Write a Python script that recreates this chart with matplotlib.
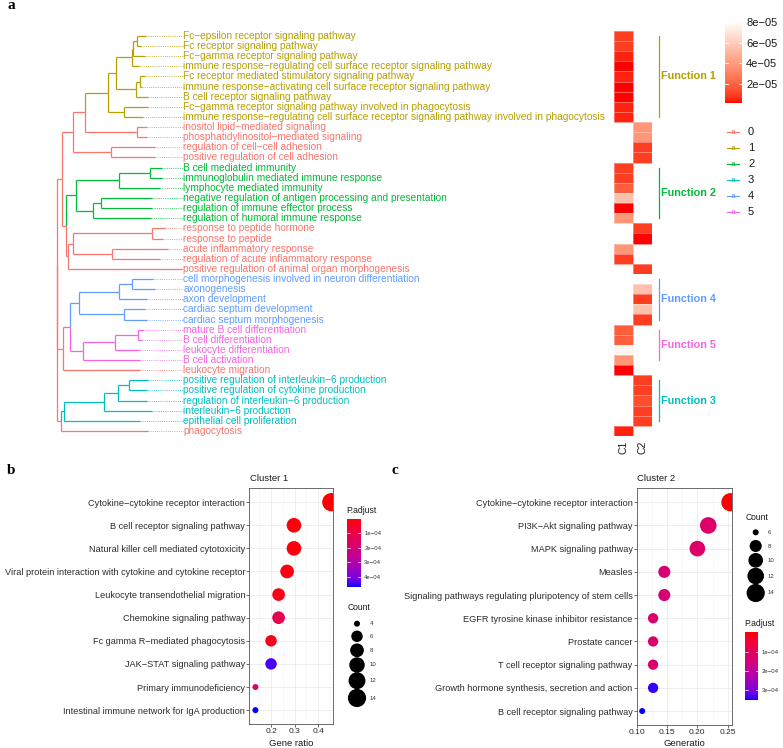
import numpy as np
import matplotlib
matplotlib.use('Agg')
import matplotlib.pyplot as plt
from matplotlib.colors import ListedColormap, Normalize, to_rgb
from matplotlib.cm import ScalarMappable

plt.rcParams['font.family'] = ['Liberation Sans', 'DejaVu Sans']

# ------------------------------------------------------------------ data
group_colors = ['#F8766D', '#B79F00', '#00BA38', '#00BFC4', '#619CFF', '#F564E3']
group_labels = ['0', '1', '2', '3', '4', '5']

terms = [
    'Fc−epsilon receptor signaling pathway',
    'Fc receptor signaling pathway',
    'Fc−gamma receptor signaling pathway',
    'immune response−regulating cell surface receptor signaling pathway',
    'Fc receptor mediated stimulatory signaling pathway',
    'immune response−activating cell surface receptor signaling pathway',
    'B cell receptor signaling pathway',
    'Fc−gamma receptor signaling pathway involved in phagocytosis',
    'immune response−regulating cell surface receptor signaling pathway involved in phagocytosis',
    'inositol lipid−mediated signaling',
    'phosphatidylinositol−mediated signaling',
    'regulation of cell−cell adhesion',
    'positive regulation of cell adhesion',
    'B cell mediated immunity',
    'immunoglobulin mediated immune response',
    'lymphocyte mediated immunity',
    'negative regulation of antigen processing and presentation',
    'regulation of immune effector process',
    'regulation of humoral immune response',
    'response to peptide hormone',
    'response to peptide',
    'acute inflammatory response',
    'regulation of acute inflammatory response',
    'positive regulation of animal organ morphogenesis',
    'cell morphogenesis involved in neuron differentiation',
    'axonogenesis',
    'axon development',
    'cardiac septum development',
    'cardiac septum morphogenesis',
    'mature B cell differentiation',
    'B cell differentiation',
    'leukocyte differentiation',
    'B cell activation',
    'leukocyte migration',
    'positive regulation of interleukin−6 production',
    'positive regulation of cytokine production',
    'regulation of interleukin−6 production',
    'interleukin−6 production',
    'epithelial cell proliferation',
    'phagocytosis',
]
term_group = [1]*9 + [0]*4 + [2]*6 + [0]*5 + [4]*5 + [5]*4 + [0] + [3]*5 + [0]

# tree: tip depths (root = 0, label column = 1) and merges (a, b, node depth);
# merge k creates node id 40 + k
tip_depth = [0.706, 0.669, 0.701, 0.653, 0.701, 0.675, 0.725, 0.725, 0.685, 0.714,
             0.714, 0.780, 0.780, 0.836, 0.836, 0.820, 0.756, 0.756, 0.748, 0.860,
             0.844, 0.883, 0.820, 0.994, 0.764, 0.780, 0.714, 0.701, 0.714, 0.687,
             0.675, 0.661, 0.661, 0.661, 0.727, 0.714, 0.714, 0.754, 0.661, 0.727]
merges = [
    (0, 1, 0.635), (40, 2, 0.608), (41, 3, 0.595), (4, 5, 0.661), (43, 6, 0.629),
    (42, 44, 0.471), (7, 8, 0.534), (45, 46, 0.407), (9, 10, 0.635), (47, 48, 0.225),
    (11, 12, 0.431), (49, 50, 0.127), (13, 14, 0.740), (52, 15, 0.494), (16, 17, 0.349),
    (54, 18, 0.286), (53, 55, 0.151), (19, 20, 0.756), (21, 22, 0.437), (57, 58, 0.132),
    (59, 23, 0.092), (56, 60, 0.074), (51, 61, 0.044), (24, 25, 0.595), (63, 26, 0.494),
    (27, 28, 0.537), (64, 65, 0.177), (29, 30, 0.643), (67, 31, 0.463), (68, 32, 0.211),
    (66, 69, 0.106), (70, 33, 0.048), (34, 35, 0.576), (72, 36, 0.489), (73, 37, 0.378),
    (74, 38, 0.060), (75, 39, 0.032), (62, 71, 0.006), (77, 76, 0.0),
]

nan = np.nan
heat_cols = ['C1', 'C2']
c1_val = [9e-06, 9e-06, 4e-06, 1e-06, 4e-06, 1e-06, 1e-06, 4e-06, 4e-06, nan,
          nan, nan, nan, 9e-06, 9e-06, 1.8e-05, 5.5e-05, 1e-06, 3.8e-05, nan,
          nan, 3.8e-05, 9e-06, nan, nan, nan, nan, nan, nan, 1.8e-05,
          1.8e-05, 7.6e-05, 3.8e-05, 1e-06, nan, nan, nan, nan, nan, 4e-06]
c2_val = [nan, nan, nan, nan, nan, nan, nan, nan, nan, 3.8e-05,
          3.8e-05, 9e-06, 9e-06, nan, nan, nan, nan, nan, nan, 9e-06,
          1e-06, nan, nan, 9e-06, 8.1e-05, 5.5e-05, 9e-06, 5.5e-05, 9e-06, nan,
          nan, nan, nan, nan, 9e-06, 9e-06, 1.3e-05, 9e-06, 9e-06, nan]
heat_ticks = [2e-05, 4e-05, 6e-05, 8e-05]
heat_ticklabels = ['2e−05', '4e−05', '6e−05', '8e−05']

functions = [('Function 1', 1, 0, 8), ('Function 2', 2, 13, 18), ('Function 4', 4, 24, 28),
             ('Function 5', 5, 29, 32), ('Function 3', 3, 34, 38)]

k1_terms = ['Cytokine−cytokine receptor interaction', 'B cell receptor signaling pathway',
            'Natural killer cell mediated cytotoxicity',
            'Viral protein interaction with cytokine and cytokine receptor',
            'Leukocyte transendothelial migration', 'Chemokine signaling pathway',
            'Fc gamma R−mediated phagocytosis', 'JAK−STAT signaling pathway',
            'Primary immunodeficiency', 'Intestinal immune network for IgA production']
k1_ratio = [0.455, 0.297, 0.297, 0.268, 0.232, 0.232, 0.2, 0.2, 0.134, 0.134]
k1_count = [14, 9, 9, 8, 7, 7, 6, 6, 4, 4]
k1_padj = [1e-07, 8e-06, 1e-05, 1.5e-05, 2e-05, 1.2e-04, 2.5e-05, 4.45e-04, 1.7e-04, 4.67e-04]
k1_xticks = [0.2, 0.3, 0.4]
k1_xticklabels = ['0.2', '0.3', '0.4']
k1_ticks = [1e-04, 2e-04, 3e-04, 4e-04]
k1_ticklabels = ['1e−04', '2e−04', '3e−04', '4e−04']
k1_size_breaks = [4, 6, 8, 10, 12, 14]

k2_terms = ['Cytokine−cytokine receptor interaction', 'PI3K−Akt signaling pathway',
            'MAPK signaling pathway', 'Measles',
            'Signaling pathways regulating pluripotency of stem cells',
            'EGFR tyrosine kinase inhibitor resistance', 'Prostate cancer',
            'T cell receptor signaling pathway',
            'Growth hormone synthesis, secretion and action', 'B cell receptor signaling pathway']
k2_ratio = [0.2545, 0.218, 0.2, 0.1455, 0.1455, 0.127, 0.127, 0.127, 0.127, 0.109]
k2_count = [14, 12, 11, 8, 8, 7, 7, 7, 7, 6]
k2_padj = [1e-07, 1.25e-04, 1.25e-04, 1.4e-04, 1.4e-04, 1.3e-04, 1.3e-04, 1.3e-04,
           3.4e-04, 3.49e-04]
k2_xticks = [0.10, 0.15, 0.20, 0.25]
k2_xticklabels = ['0.10', '0.15', '0.20', '0.25']
k2_ticks = [1e-04, 2e-04, 3e-04]
k2_ticklabels = ['1e−04', '2e−04', '3e−04']
k2_size_breaks = [6, 8, 10, 12, 14]

# ------------------------------------------------------------------ helpers
W, H = 783, 748
fig = plt.figure(figsize=(W / 100, H / 100), dpi=100)


def fax(x0, y0, x1, y1, **kw):
    return fig.add_axes([x0 / W, 1 - y1 / H, (x1 - x0) / W, (y1 - y0) / H], **kw)


Mx = np.array([[0.4124, 0.3576, 0.1805], [0.2126, 0.7152, 0.0722], [0.0193, 0.1192, 0.9505]])
WH = Mx.sum(axis=1)


def rgb2lab(rgb):
    c = np.asarray(rgb, float)
    lin = np.where(c <= 0.04045, c / 12.92, ((c + 0.055) / 1.055) ** 2.4)
    xyz = Mx @ lin / WH
    f = np.where(xyz > (6 / 29) ** 3, np.cbrt(xyz), xyz / (3 * (6 / 29) ** 2) + 4 / 29)
    return np.array([116 * f[1] - 16, 500 * (f[0] - f[1]), 200 * (f[1] - f[2])])


def lab2rgb(lab):
    L, a, b = lab
    fy = (L + 16) / 116
    f = np.array([fy + a / 500, fy, fy - b / 200])
    xyz = np.where(f > 6 / 29, f ** 3, 3 * (6 / 29) ** 2 * (f - 4 / 29)) * WH
    lin = np.clip(np.linalg.solve(Mx, xyz), 0, None)
    c = np.where(lin <= 0.0031308, 12.92 * lin, 1.055 * lin ** (1 / 2.4) - 0.055)
    return np.clip(c, 0, 1)


def lab_cmap(c0, c1, n=256):
    l0, l1 = rgb2lab(to_rgb(c0)), rgb2lab(to_rgb(c1))
    return ListedColormap([lab2rgb(l0 + (l1 - l0) * t) for t in np.linspace(0, 1, n)])


cmap_heat = lab_cmap('#FF0000', '#FFFFFF')
cmap_rb = lab_cmap('#FF0000', '#0000FF')

ov = fax(0, 0, W, H)
ov.set_xlim(0, W)
ov.set_ylim(H, 0)
ov.axis('off')
ov.set_zorder(5)

TXT = '#1a1a1a'

# ------------------------------------------------------------------ panel a : tree
n = len(terms)
ax_t = fax(56.7, 30.9, 182.7, 436)
ax_t.set_xlim(0, 1)
ax_t.set_ylim(n - 0.5, -0.5)
ax_t.axis('off')

ypos = {i: float(i) for i in range(n)}
dep = {i: tip_depth[i] for i in range(n)}
grp = {i: term_group[i] for i in range(n)}
for k, (a, b, d) in enumerate(merges):
    nid = n + k
    ypos[nid] = (ypos[a] + ypos[b]) / 2
    dep[nid] = d
    grp[nid] = grp[a] if grp[a] == grp[b] else 0
for k, (a, b, d) in enumerate(merges):
    nid = n + k
    for c in (a, b):
        col = group_colors[grp[c]]
        ax_t.plot([d, d], [ypos[nid], ypos[c]], color=col, lw=0.9, clip_on=False,
                  solid_capstyle='butt')
        ax_t.plot([d, dep[c]], [ypos[c], ypos[c]], color=col, lw=0.9, clip_on=False,
                  solid_capstyle='butt')
for i in range(n):
    col = group_colors[term_group[i]]
    ax_t.plot([tip_depth[i], 1.0], [i, i], color=col, lw=0.6, ls=(0, (1, 1.6)), clip_on=False)
    ax_t.text(1.006, i, terms[i], color=col, fontsize=7.25, va='center', ha='left')

# ------------------------------------------------------------------ panel a : heatmap
ax_h = fax(614, 30.9, 651.5, 436)
vals = np.ma.masked_invalid(np.array([c1_val, c2_val]).T)
hnorm = Normalize(vmin=np.nanmin(vals), vmax=np.nanmax(vals))
ax_h.pcolormesh(np.arange(3), np.arange(n + 1) - 0.5, vals, cmap=cmap_heat, norm=hnorm,
                edgecolors=(1, 1, 1, 0.35), linewidth=0.5)
ax_h.set_xlim(0, 2)
ax_h.set_ylim(n - 0.5, -0.5)
for s in ax_h.spines.values():
    s.set_visible(False)
ax_h.set_yticks([])
ax_h.set_xticks([0.5, 1.5], heat_cols, rotation=90, fontsize=7.5, color=TXT)
ax_h.tick_params(axis='x', length=0, pad=3)
for lab, g, r0, r1 in functions:
    col = group_colors[g]
    ax_h.plot([2.42, 2.42], [r0, r1], color=col, lw=0.9, clip_on=False)
    ax_h.text(2.52, (r0 + r1) / 2, lab, color=col, fontsize=7.8, fontweight='bold',
              va='center', ha='left', clip_on=False)

cax = fax(725, 21, 742, 103)
cb = fig.colorbar(ScalarMappable(norm=hnorm, cmap=cmap_heat), cax=cax)
cb.outline.set_visible(False)
cb.set_ticks(heat_ticks, labels=heat_ticklabels)
cax.tick_params(labelsize=8, colors=TXT, length=0, pad=3)
for t in heat_ticks:
    cax.plot([0, 0.2], [t, t], color='white', lw=0.6, transform=cax.get_yaxis_transform())
    cax.plot([0.8, 1], [t, t], color='white', lw=0.6, transform=cax.get_yaxis_transform())

# group legend
for j, (lab, col) in enumerate(zip(group_labels, group_colors)):
    yy = 132 + 16 * j
    ov.plot([727, 739], [yy, yy], color=col, lw=0.8)
    ov.text(733, yy, 'a', color=col, fontsize=6, ha='center', va='center')
    ov.text(748, yy, lab, color=TXT, fontsize=8, ha='left', va='center')

# ------------------------------------------------------------------ panels b, c


def diam(cnt, cmin, cmax, dmin=6.0, dmax=18.2):
    r = (np.asarray(cnt, float) - cmin) / (cmax - cmin)
    return dmin + (dmax - dmin) * np.sqrt(r)


def dotplot(box, terms_, ratio, count, padj, xlim, xticks, xticklabels, minor):
    ax = fax(*box)
    m = len(terms_)
    yy = np.arange(m)
    cmin, cmax = min(count), max(count)
    d = diam(count, cmin, cmax)
    norm = Normalize(vmin=min(padj), vmax=max(padj))
    ax.scatter(ratio, yy, s=(d * 0.72) ** 2, c=padj, cmap=cmap_rb, norm=norm,
               linewidths=0, zorder=3)
    ax.set_xlim(*xlim)
    ax.set_ylim(m - 1 + 0.6, -0.6)
    ax.set_yticks(yy, terms_)
    ax.set_xticks(xticks, xticklabels)
    ax.set_xticks(minor, minor=True)
    ax.set_axisbelow(True)
    ax.grid(True, which='major', color='#EBEBEB', lw=0.6)
    ax.grid(True, which='minor', axis='x', color='#F3F3F3', lw=0.4)
    for s in ax.spines.values():
        s.set_color('#555555')
        s.set_linewidth(0.6)
    ax.tick_params(axis='y', labelsize=6.6, labelcolor='#2b2b2b', length=2, width=0.5,
                   color='#333333', pad=1)
    ax.tick_params(axis='x', labelsize=6, labelcolor='#2b2b2b', length=2, width=0.5,
                   color='#333333', pad=1.2)
    ax.tick_params(which='minor', length=0)
    return ax, norm, (cmin, cmax)


ax_b, norm_b, cr_b = dotplot((249.3, 488.3, 332.7, 724), k1_terms, k1_ratio, k1_count, k1_padj,
                             (0.108, 0.461), k1_xticks, k1_xticklabels, [0.15, 0.25, 0.35, 0.45])
ax_c, norm_c, cr_c = dotplot((636.7, 488.3, 731.7, 725), k2_terms, k2_ratio, k2_count, k2_padj,
                             (0.100, 0.2566), k2_xticks, k2_xticklabels, [0.125, 0.175, 0.225])

ov.text(250.5, 478.3, 'Cluster 1', fontsize=6.8, color=TXT, ha='left', va='center')
ov.text(637.3, 478.3, 'Cluster 2', fontsize=6.8, color=TXT, ha='left', va='center')
ov.text(291, 744, 'Gene ratio', fontsize=6.8, color=TXT, ha='center', va='center')
ov.text(684, 744, 'Generatio', fontsize=6.8, color=TXT, ha='center', va='center')


def pcolorbar(box, norm, ticks, labels, title_xy):
    cx = fax(*box)
    cbx = fig.colorbar(ScalarMappable(norm=norm, cmap=cmap_rb), cax=cx)
    cbx.outline.set_visible(False)
    cx.invert_yaxis()
    cbx.set_ticks(ticks, labels=labels)
    cx.tick_params(labelsize=4.3, colors='#333333', length=0, pad=2.5)
    for t in ticks:
        cx.plot([0, 0.2], [t, t], color='white', lw=0.5, transform=cx.get_yaxis_transform())
        cx.plot([0.8, 1], [t, t], color='white', lw=0.5, transform=cx.get_yaxis_transform())
    ov.text(title_xy[0], title_xy[1], 'P.adjust', fontsize=6.2, color=TXT, ha='left',
            va='center')


def sizelegend(breaks, crange, x, ys, title_xy, xl):
    ov.text(title_xy[0], title_xy[1], 'Count', fontsize=6.2, color=TXT, ha='left', va='center')
    d = diam(breaks, crange[0], crange[1])
    ov.scatter([x] * len(breaks), ys, s=(d * 0.72) ** 2, color='black', linewidths=0)
    for b, y in zip(breaks, ys):
        ov.text(xl, y, str(b), fontsize=4.3, color='#333333', ha='left', va='center')


pcolorbar((347, 519, 360.7, 586.5), norm_b, k1_ticks, k1_ticklabels, (346.7, 510.7))
sizelegend(k1_size_breaks, cr_b, 357, [623.7, 636.3, 650.3, 665, 680.7, 698], (347.3, 608), 369.5)
pcolorbar((745, 632.3, 758.3, 700), norm_c, k2_ticks, k2_ticklabels, (744, 624))
sizelegend(k2_size_breaks, cr_c, 755.7, [532.3, 546, 560.3, 576, 593], (745.7, 517.7), 768)

# panel letters
for lt, x, y in [('a', 7, 9), ('b', 7, 474), ('c', 391, 474)]:
    ov.text(x, y, lt, fontsize=11, fontweight='bold', family=['Liberation Serif', 'DejaVu Serif'],
            ha='left', va='baseline', color='black')

fig.savefig('out.png', dpi=100)
